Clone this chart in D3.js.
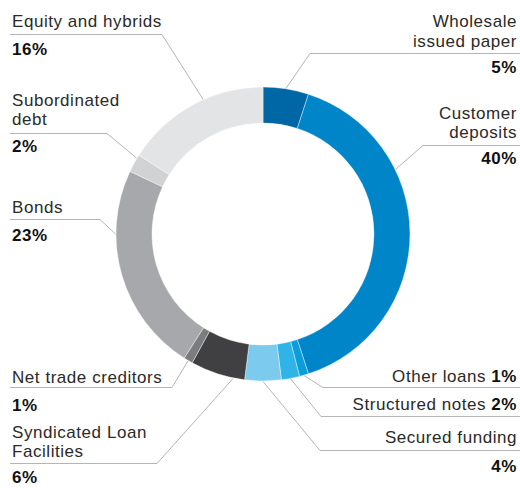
<!DOCTYPE html>
<html><head><meta charset="utf-8">
<script src="https://cdn.jsdelivr.net/npm/d3@7"></script>
<style>
html,body{margin:0;padding:0;background:#fff;}
svg{display:block;}
text{font-family:"Liberation Sans",Arial,Helvetica,sans-serif;}
</style></head>
<body>
<script>
// ---- data ----
const categories = ["Wholesale issued paper","Customer deposits","Other loans","Structured notes","Secured funding","Syndicated Loan Facilities","Net trade creditors","Bonds","Subordinated debt","Equity and hybrids"];
const values = [5, 40, 1, 2, 4, 6, 1, 23, 2, 16];
const labelLines = [["Wholesale","issued paper"],["Customer","deposits"],["Other loans"],["Structured notes"],["Secured funding"],["Syndicated Loan","Facilities"],["Net trade creditors"],["Bonds"],["Subordinated","debt"],["Equity and hybrids"]];
const colors = ["#0067a6","#0085c8","#0a9ddc","#30b4e8","#7ccbef","#404042","#7b7c7e","#a7a8ab","#d1d2d4","#e3e4e5"];

// ---- layout (positions only) ----
const W = 520, H = 488, cx = 263, cy = 234, rOut = 147, rIn = 111;
// side, text baselines, underline y, underline far x, percent baseline (null = inline), leader angle (deg)
const layout = [
  {side:"R", base:[27,46.5], uy:53.5, ux:310, pct:73, ang:9},
  {side:"R", base:[118.5,138], uy:145.5, ux:423, pct:164, ang:64},
  {side:"R", base:[382], uy:387.5, ux:323, pct:null, ang:163.8},
  {side:"R", base:[410], uy:416.5, ux:321, pct:null, ang:169.2},
  {side:"R", base:[443], uy:450.5, ux:320, pct:472, ang:180},
  {side:"L", base:[438,457], uy:463.5, ux:157, pct:483, ang:191.7},
  {side:"L", base:[383], uy:387.5, ux:172, pct:411, ang:210.6},
  {side:"L", base:[213], uy:219.5, ux:100, pct:241, ang:270},
  {side:"L", base:[105.5,124.5], uy:133.5, ux:107, pct:152, ang:301},
  {side:"L", base:[27], uy:34.5, ux:162, pct:55, ang:336}
];

const svg = d3.select("body").append("svg").attr("width", W).attr("height", H);

const data = categories.map((c,i)=>({name:c, value:values[i], color:colors[i], lines:labelLines[i], L:layout[i]}));

const pie = d3.pie().value(d=>d.value).sort(null);
const arc = d3.arc().innerRadius(rIn).outerRadius(rOut);

const g = svg.append("g").attr("transform", `translate(${cx},${cy})`);
g.selectAll("path").data(pie(data)).join("path")
  .attr("d", arc)
  .attr("fill", d=>d.data.color)
  .attr("stroke", "#ffffff")
  .attr("stroke-width", 0.4);

// leader lines
const lineColor = "#b5b5b5";
data.forEach(d=>{
  const L = d.L;
  const a = L.ang*Math.PI/180;
  const px = cx + (rOut+0.5)*Math.sin(a), py = cy - (rOut+0.5)*Math.cos(a);
  const xLeft = 10, xRight = 520;
  const ux1 = L.side==="L" ? xLeft : L.ux;
  const ux2 = L.side==="L" ? L.ux : xRight;
  const joinX = L.side==="L" ? ux2 : ux1;
  svg.append("path")
    .attr("d", `M${ux1},${L.uy}H${ux2}M${joinX},${L.uy}L${px},${py}`)
    .attr("fill","none").attr("stroke", lineColor).attr("stroke-width", 1);
});

// labels
const fs = 17, ls = 0.55;
data.forEach(d=>{
  const L = d.L;
  const x = L.side==="L" ? 12 : 517;
  const anchor = L.side==="L" ? "start" : "end";
  d.lines.forEach((ln,k)=>{
    const t = svg.append("text").attr("x", x).attr("y", L.base[k])
      .attr("text-anchor", anchor).attr("font-size", fs).attr("fill","#2a2a2a")
      .attr("letter-spacing", ls);
    if (L.pct === null && k === d.lines.length-1) {
      t.append("tspan").text(ln + " ");
      t.append("tspan").attr("font-weight", 700).attr("fill","#111").text(d.value + "%");
    } else {
      t.text(ln);
    }
  });
  if (L.pct !== null) {
    svg.append("text").attr("x", x).attr("y", L.pct)
      .attr("text-anchor", anchor).attr("font-size", fs).attr("font-weight", 700)
      .attr("letter-spacing", ls)
      .attr("fill","#111").text(d.value + "%");
  }
});
</script>
</body></html>
